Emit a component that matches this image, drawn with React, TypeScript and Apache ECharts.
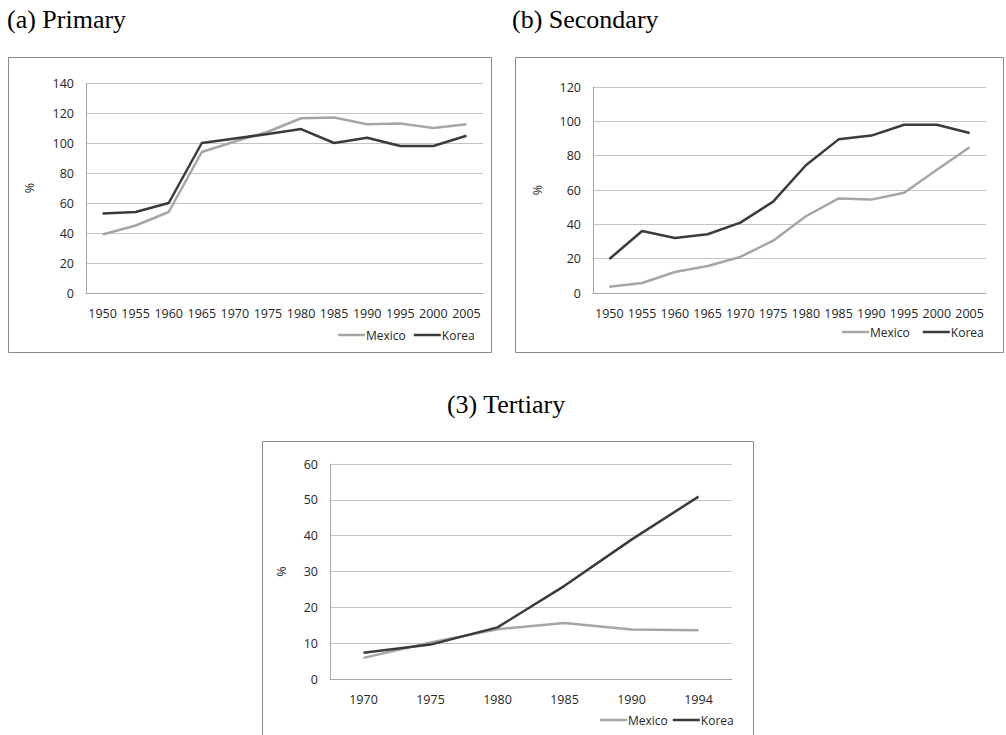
import React, { useEffect, useRef } from "react";
import * as echarts from "echarts";

const yearsAB = ["1950", "1955", "1960", "1965", "1970", "1975", "1980", "1985", "1990", "1995", "2000", "2005"];
const yearsC = ["1970", "1975", "1980", "1985", "1990", "1994"];

const primaryMexico = [39, 45, 54, 94, 101, 107.5, 116.5, 117, 112.5, 113, 110, 112.5];
const primaryKorea = [53, 54, 60, 100, 103, 106, 109.3, 100, 103.5, 98, 98, 104.8];

const secondaryMexico = [3.7, 5.8, 12.2, 15.7, 21, 30.5, 44.7, 55.1, 54.4, 58.4, 71.8, 84.9];
const secondaryKorea = [19.8, 36.1, 32, 34.2, 41, 53.2, 74.4, 89.5, 91.7, 98, 98, 93.2];

const tertiaryMexico = [5.9, 10.2, 13.9, 15.6, 13.8, 13.6];
const tertiaryKorea = [7.3, 9.6, 14.4, 26, 38.9, 50.9];

const titles = ["(a) Primary", "(b) Secondary", "(3) Tertiary"];
const seriesNames = ["Mexico", "Korea"];

const MEX_COLOR = "#a6a6a6";
const KOR_COLOR = "#3b3b3b";
const GRID_COLOR = "#c4c4c4";
const AXIS_COLOR = "#a8a8a8";
const LABEL_COLOR = "#262626";
const FONT = "'Open Sans', sans-serif";
const FS = 12.5;
const LEG_FS = 12;
const TITLE_FONT = "26px 'Liberation Serif', 'Times New Roman', serif";

export default function App() {
  const ref = useRef<HTMLDivElement>(null);

  useEffect(() => {
    if (!ref.current) return;
    const chart = echarts.init(ref.current, undefined, { renderer: "svg" });

    const grids = [
      { left: 86, top: 83, width: 397, height: 210 },
      { left: 593, top: 87, width: 393, height: 206 },
      { left: 330, top: 464, width: 402, height: 215 },
    ];
    const cats = [yearsAB, yearsAB, yearsC];
    const yMax = [140, 120, 60];
    const yInt = [20, 20, 10];
    const nameGaps = [50, 49, 42];

    const xAxis = cats.map((c, i) => ({
      type: "category",
      gridIndex: i,
      data: c,
      boundaryGap: true,
      axisTick: { show: false },
      axisLine: { show: true, lineStyle: { color: AXIS_COLOR, width: 1 } },
      axisLabel: { interval: 0, margin: 14, color: LABEL_COLOR, fontSize: FS, fontFamily: FONT },
      splitLine: { show: false },
    }));

    const yAxis = yMax.map((m, i) => ({
      type: "value",
      gridIndex: i,
      min: 0,
      max: m,
      interval: yInt[i],
      name: "%",
      nameLocation: "middle",
      nameGap: nameGaps[i],
      nameTextStyle: { color: LABEL_COLOR, fontSize: FS, fontFamily: FONT },
      axisLine: { show: true, lineStyle: { color: AXIS_COLOR, width: 1 } },
      axisTick: { show: false },
      axisLabel: { margin: 12, color: LABEL_COLOR, fontSize: FS, fontFamily: FONT },
      splitLine: { show: true, lineStyle: { color: GRID_COLOR, width: 1 } },
    }));

    const data = [
      [primaryMexico, primaryKorea],
      [secondaryMexico, secondaryKorea],
      [tertiaryMexico, tertiaryKorea],
    ];
    const series: any[] = [];
    data.forEach((pair, i) => {
      pair.forEach((vals, j) => {
        series.push({
          type: "line",
          name: seriesNames[j],
          xAxisIndex: i,
          yAxisIndex: i,
          data: vals,
          symbol: "none",
          smooth: false,
          lineStyle: { color: j === 0 ? MEX_COLOR : KOR_COLOR, width: 2.5 },
          itemStyle: { color: j === 0 ? MEX_COLOR : KOR_COLOR },
          z: 3 + j,
        });
      });
    });

    const legendPos = [
      { left: 338, y: 337, itemGap: 8 },
      { left: 842, y: 334, itemGap: 13 },
      { left: 600, y: 722, itemGap: 5 },
    ];
    const legend = legendPos.map((p) => ({
      left: p.left,
      top: p.y - 8,
      orient: "horizontal",
      icon: "rect",
      itemWidth: 27,
      itemHeight: 2.5,
      itemGap: p.itemGap,
      padding: 0,
      selectedMode: false,
      data: seriesNames,
      textStyle: { color: LABEL_COLOR, fontSize: LEG_FS, fontFamily: FONT, padding: [0, 0, 0, -4] },
    }));

    const boxes = [
      { x: 8.5, y: 57.5, width: 483, height: 295 },
      { x: 515.5, y: 57.5, width: 488, height: 295 },
      { x: 262.5, y: 441.5, width: 491, height: 310 },
    ];

    const graphic: any[] = [
      ...boxes.map((b) => ({
        type: "rect",
        silent: true,
        z: -10,
        shape: { x: b.x, y: b.y, width: b.width, height: b.height },
        style: { fill: "#ffffff", stroke: "#8a8a8a", lineWidth: 1 },
      })),
      {
        type: "text",
        x: 7,
        y: 19,
        style: { text: titles[0], font: TITLE_FONT, fill: "#000", verticalAlign: "middle", align: "left" },
      },
      {
        type: "text",
        x: 512,
        y: 19,
        style: { text: titles[1], font: TITLE_FONT, fill: "#000", verticalAlign: "middle", align: "left" },
      },
      {
        type: "text",
        x: 506,
        y: 404,
        style: { text: titles[2], font: TITLE_FONT, fill: "#000", verticalAlign: "middle", align: "center" },
      },
    ];

    chart.setOption({
      animation: false,
      backgroundColor: "#ffffff",
      grid: grids.map((g) => ({ ...g, containLabel: false })),
      xAxis,
      yAxis,
      legend,
      series,
      graphic,
    });

    return () => chart.dispose();
  }, []);

  return (
    <div
      ref={ref}
      style={{ position: "absolute", left: 0, top: 0, width: 1006, height: 735, background: "#fff" }}
    />
  );
}
